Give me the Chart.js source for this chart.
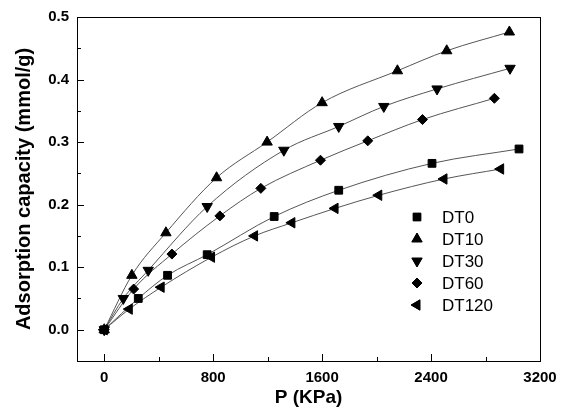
<!DOCTYPE html>
<html>
<head>
<meta charset="utf-8">
<script src="https://cdn.jsdelivr.net/npm/chart.js@4/dist/chart.umd.min.js"></script>
<style>
  body { margin: 0; background: #fff; }
  #grafico { display: block; }
</style>
</head>
<body>
<canvas id="grafico" width="568" height="409"></canvas>
<script>
const serie = ['DT0', 'DT10', 'DT30', 'DT60', 'DT120'];

const pDT0 = [0, 250, 465, 756, 1248, 1722, 2407, 3046];
const qDT0 = [0, 0.050, 0.087, 0.120, 0.181, 0.223, 0.266, 0.289];

const pDT10 = [0, 203, 453, 825, 1196, 1600, 2153, 2515, 2975];
const qDT10 = [0, 0.087, 0.155, 0.243, 0.300, 0.363, 0.414, 0.446, 0.476];

const pDT30 = [0, 140, 323, 756, 1319, 1722, 2053, 2444, 2980];
const qDT30 = [0, 0.050, 0.095, 0.197, 0.287, 0.325, 0.357, 0.385, 0.418];

const pDT60 = [0, 216, 497, 849, 1150, 1588, 1935, 2337, 2865];
const qDT60 = [0, 0.065, 0.121, 0.182, 0.226, 0.271, 0.302, 0.336, 0.370];

const pDT120 = [0, 184, 418, 788, 1104, 1378, 1695, 2016, 2495, 2911];
const qDT120 = [0, 0.033, 0.068, 0.116, 0.150, 0.171, 0.194, 0.215, 0.241, 0.257];

const xTicks = [0, 800, 1600, 2400, 3200];
const yTicks = [0.0, 0.1, 0.2, 0.3, 0.4, 0.5];

const simboli = [
  { style: 'rect', rot: 0, r: 5.5 },
  { style: 'triangle', rot: 0, r: 6 },
  { style: 'triangle', rot: 180, r: 6 },
  { style: 'rectRot', rot: 0, r: 5 },
  { style: 'triangle', rot: -90, r: 6 }
];

const pVals = [pDT0, pDT10, pDT30, pDT60, pDT120];
const qVals = [qDT0, qDT10, qDT30, qDT60, qDT120];

const FONT = "Arial, 'Liberation Sans', sans-serif";

function punti(i) {
  return pVals[i].map((p, k) => ({ x: p, y: qVals[i][k] }));
}

const datasets = [];
serie.forEach((nome, i) => {
  // curva (sotto)
  datasets.push({
    label: nome + ' fit',
    data: punti(i),
    showLine: true,
    borderColor: '#555',
    borderWidth: 1,
    pointRadius: 0,
    cubicInterpolationMode: 'monotone',
    order: 2
  });
  // simboli (sopra)
  datasets.push({
    label: nome,
    data: punti(i),
    showLine: false,
    pointStyle: simboli[i].style,
    rotation: simboli[i].rot,
    pointRadius: simboli[i].r,
    backgroundColor: '#000',
    borderColor: '#000',
    borderWidth: 1,
    order: 1
  });
});

// cornice, tacche interne e legenda
const decorazioni = {
  id: 'decorazioni',
  afterDatasetsDraw(chart) {
    const c = chart.ctx;
    const a = chart.chartArea;
    const xs = chart.scales.x, ys = chart.scales.y;
    c.save();
    c.strokeStyle = '#000';
    c.lineWidth = 1;
    c.strokeRect(Math.round(a.left) + 0.5, Math.round(a.top) + 0.5,
                 Math.round(a.right - a.left), Math.round(a.bottom - a.top));
    c.beginPath();
    xTicks.forEach((v, k) => {
      const px = Math.round(xs.getPixelForValue(v)) + 0.5;
      c.moveTo(px, a.bottom); c.lineTo(px, a.bottom - 7);
      if (k < xTicks.length - 1) {
        const mx = Math.round(xs.getPixelForValue((v + xTicks[k + 1]) / 2)) + 0.5;
        c.moveTo(mx, a.bottom); c.lineTo(mx, a.bottom - 4);
      }
    });
    yTicks.forEach((v, k) => {
      const py = Math.round(ys.getPixelForValue(v)) + 0.5;
      c.moveTo(a.left, py); c.lineTo(a.left + 7, py);
      if (k < yTicks.length - 1) {
        const my = Math.round(ys.getPixelForValue((v + yTicks[k + 1]) / 2)) + 0.5;
        c.moveTo(a.left, my); c.lineTo(a.left + 4, my);
      }
    });
    c.stroke();

    // legenda
    c.font = '17px ' + FONT;
    c.textBaseline = 'middle';
    c.fillStyle = '#000';
    serie.forEach((nome, i) => {
      const y = 217 + i * 22;
      Chart.helpers.drawPoint(c, {
        pointStyle: simboli[i].style,
        rotation: simboli[i].rot,
        radius: simboli[i].r,
        borderWidth: 1
      }, 417, y);
      c.fill();
      c.fillText(nome, 442, y + 1);
    });
    c.restore();
  }
};

new Chart(document.getElementById('grafico'), {
  type: 'scatter',
  data: { datasets: datasets },
  plugins: [decorazioni],
  options: {
    responsive: false,
    animation: false,
    layout: { padding: { top: 15, right: 28, left: 0, bottom: 0 } },
    plugins: {
      legend: { display: false },
      tooltip: { enabled: false }
    },
    scales: {
      x: {
        type: 'linear',
        min: -200,
        max: 3200,
        afterBuildTicks: s => { s.ticks = xTicks.map(v => ({ value: v })); },
        afterFit: s => { s.height = 48; },
        grid: { display: false, drawTicks: false },
        border: { display: false },
        ticks: {
          color: '#000',
          padding: 8,
          maxRotation: 0,
          callback: v => String(v),
          font: { family: FONT, size: 15, weight: 'bold' }
        },
        title: {
          display: true,
          text: 'P (KPa)',
          color: '#000',
          padding: { top: 0, bottom: 0 },
          font: { family: FONT, size: 19, weight: 'bold', lineHeight: 1.2 }
        }
      },
      y: {
        type: 'linear',
        min: -0.05,
        max: 0.5,
        afterBuildTicks: s => { s.ticks = yTicks.map(v => ({ value: v })); },
        afterFit: s => { s.width = 77; },
        grid: { display: false, drawTicks: false },
        border: { display: false },
        ticks: {
          color: '#000',
          padding: 8,
          callback: v => v.toFixed(1),
          font: { family: FONT, size: 15, weight: 'bold' }
        },
        title: {
          display: true,
          text: 'Adsorption capacity (mmol/g)',
          color: '#000',
          padding: { top: 12, bottom: 0 },
          font: { family: FONT, size: 20, weight: 'bold', lineHeight: 1.2 }
        }
      }
    }
  }
});
</script>
</body>
</html>
